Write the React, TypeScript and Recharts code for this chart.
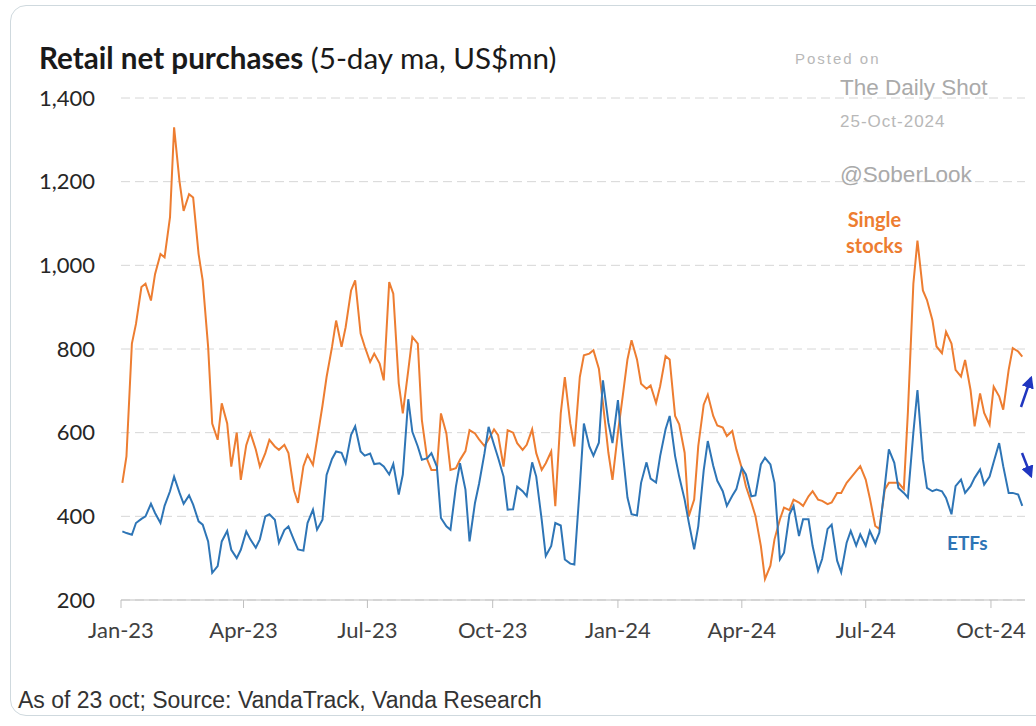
import { CartesianGrid, Line, LineChart, XAxis, YAxis } from "recharts";

// twice-weekly readings (Mon & Thu), 2 Jan 2023 -> 24 Oct 2024, US$mn, 5-day ma
const singleStocks = [
  480, 543, 813, 860, 948, 956, 916, 979, 1027, 1019, 1115, 1330, 1200, 1130, 1170, 1162,
  1027, 964, 805, 622, 583, 670, 622, 519, 600, 487, 570, 600, 560, 519, 551, 583,
  567, 559, 571, 551, 463, 432, 520, 547, 523, 583, 665, 733, 805, 868, 805, 852,
  940, 964, 837, 806, 769, 789, 765, 725, 960, 932, 718, 646, 749, 829, 813, 630,
  535, 511, 511, 646, 598, 511, 515, 535, 556, 606, 598, 584, 568, 584, 608, 594,
  519, 606, 600, 575, 559, 571, 608, 551, 511, 527, 555, 424, 646, 733, 622, 567,
  733, 785, 789, 797, 753, 670, 552, 487, 600, 674, 775, 821, 775, 717, 705, 713,
  671, 711, 783, 775, 640, 620, 552, 400, 440, 568, 667, 691, 640, 617, 612, 592, 604,
  560, 515, 472, 433, 401, 329, 250, 282, 345, 393, 421, 415, 440, 433, 425, 448,
  460, 440, 437, 429, 433, 456, 456, 480, 492, 508, 520, 488, 444, 377, 370, 464, 480,
  480, 480, 465, 650, 956, 1059, 940, 917, 869, 806, 790, 841, 813, 750, 734, 774,
  702, 615, 694, 647, 619, 710, 687, 655, 750, 802, 794, 782,
];
const etfs = [
  364, 360, 356, 384, 394, 400, 430, 408, 384, 425, 460, 495, 456, 430, 450, 428,
  388, 380, 340, 265, 281, 340, 365, 320, 300, 320, 364, 345, 325, 345, 400, 405,
  392, 337, 367, 376, 344, 321, 318, 384, 416, 368, 392, 499, 537, 555, 552, 527,
  595, 615, 555, 545, 550, 525, 527, 519, 500, 525, 452, 500, 680, 602, 567, 535,
  539, 551, 519, 396, 376, 368, 471, 527, 464, 340, 432, 478, 551, 614, 571, 540,
  495, 416, 417, 471, 460, 448, 529, 495, 392, 305, 329, 384, 378, 297, 287, 285,
  471, 622, 567, 545, 576, 725, 624, 575, 678, 570, 445, 405, 402, 480, 529, 490,
  481, 544, 608, 640, 544, 495, 440, 386, 321, 376, 510, 580, 521, 485, 460, 425, 449,
  465, 516, 500, 448, 450, 524, 540, 524, 480, 297, 313, 405, 425, 353, 393, 393,
  329, 270, 298, 370, 380, 294, 266, 337, 365, 330, 357, 330, 365, 337, 361, 472, 560,
  528, 468, 456, 445, 600, 702, 536, 468, 460, 464, 460, 444, 405, 472, 488, 456,
  472, 492, 512, 476, 495, 530, 575, 520, 456, 456, 452, 425,
];
const quarterStarts = [
  "2023-01-01", "2023-04-01", "2023-07-01", "2023-10-01",
  "2024-01-01", "2024-04-01", "2024-07-01", "2024-10-01",
];
const quarterLabels = ["Jan-23", "Apr-23", "Jul-23", "Oct-23", "Jan-24", "Apr-24", "Jul-24", "Oct-24"];
const yTicks = [200, 400, 600, 800, 1000, 1200, 1400];

const ORIGIN = Date.UTC(2023, 0, 1);
const toDay = (iso: string) => (Date.parse(iso) - ORIGIN) / 86400000;
const firstMonday = toDay("2023-01-02");
const lastDay = toDay("2024-10-26");
const xTicks = quarterStarts.map(toDay);

// observation i falls on the Monday (even i) or Thursday (odd i) of week floor(i/2)
const chartData = singleStocks.map((v, i) => ({
  t: firstMonday + 7 * Math.floor(i / 2) + 3 * (i % 2),
  single: v,
  etf: etfs[i],
}));

const ORANGE = "#ED7D31";
const BLUE = "#2E75B6";
const CAL = "Lato, 'Noto Sans', sans-serif";
const ARIAL = "'Liberation Sans', Arial, sans-serif";

const abs = (left: number, top: number, extra: React.CSSProperties = {}): React.CSSProperties => ({
  position: "absolute",
  left,
  top,
  whiteSpace: "nowrap",
  lineHeight: 1,
  ...extra,
});

const App = () => {
  return (
    <div
      style={{
        position: "absolute",
        left: 0,
        top: 0,
        width: 1036,
        height: 726,
        overflow: "hidden",
        background: "#fff",
      }}
    >
      <div
        style={{
          position: "absolute",
          left: 10,
          top: 5,
          width: 1060,
          height: 709,
          border: "1.5px solid #cfd9de",
          borderRadius: 16,
        }}
      />
      <div style={{ position: "absolute", left: 0, top: 0 }}>
        <LineChart
          width={1036}
          height={726}
          data={chartData}
          margin={{ top: 98, right: 11, bottom: 86, left: 0 }}
        >
          <CartesianGrid vertical={false} stroke="#d6d6d6" strokeDasharray="9 5" />
          <XAxis
            dataKey="t"
            type="number"
            domain={[0, lastDay]}
            ticks={xTicks}
            tickFormatter={(v: number) => quarterLabels[xTicks.indexOf(v)] ?? ""}
            height={40}
            stroke="#bfbfbf"
            tickSize={8}
            tickMargin={14}
            tick={{ fill: "#404040", fontSize: 22, fontFamily: CAL }}
            interval={0}
          />
          <YAxis
            domain={[200, 1400]}
            ticks={yTicks}
            width={121}
            axisLine={false}
            tickLine={false}
            tickSize={0}
            tickMargin={26}
            tickFormatter={(v: number) => v.toLocaleString("en-US")}
            tick={{ fill: "#262626", fontSize: 22, fontFamily: CAL }}
          />
          <Line
            type="linear"
            dataKey="single"
            stroke={ORANGE}
            strokeWidth={2}
            dot={false}
            isAnimationActive={false}
          />
          <Line
            type="linear"
            dataKey="etf"
            stroke={BLUE}
            strokeWidth={2}
            dot={false}
            isAnimationActive={false}
          />
        </LineChart>
      </div>

      <div style={abs(39, 43, { fontFamily: CAL, fontSize: 29.6, color: "#1a1a1a" })}>
        <b>Retail net purchases</b> (5-day ma, US$mn)
      </div>

      <div style={abs(795, 51, { fontFamily: ARIAL, fontSize: 15, letterSpacing: 2, color: "#b8b8b8" })}>
        Posted on
      </div>
      <div style={abs(840, 77, { fontFamily: ARIAL, fontSize: 22.5, color: "#aaaaaa" })}>The Daily Shot</div>
      <div style={abs(840, 113, { fontFamily: ARIAL, fontSize: 17, letterSpacing: 1, color: "#b8b8b8" })}>
        25-Oct-2024
      </div>
      <div style={abs(840, 164, { fontFamily: ARIAL, fontSize: 22.5, color: "#aaaaaa" })}>@SoberLook</div>

      <div
        style={abs(846, 206, {
          fontFamily: CAL,
          fontSize: 20,
          fontWeight: 700,
          color: ORANGE,
          lineHeight: "26px",
          textAlign: "center",
        })}
      >
        Single
        <br />
        stocks
      </div>
      <div style={abs(947, 533, { fontFamily: CAL, fontSize: 19, fontWeight: 700, color: BLUE })}>ETFs</div>

      <svg style={{ position: "absolute", left: 0, top: 0 }} width={1036} height={726}>
        <defs>
          <marker id="ah" viewBox="0 0 10 10" refX="8" refY="5" markerWidth="5" markerHeight="5" orient="auto">
            <path d="M0,0 L10,5 L0,10 z" fill="#2036c0" />
          </marker>
        </defs>
        <line x1={1021} y1={407} x2={1031} y2={378} stroke="#2036c0" strokeWidth={2.5} markerEnd="url(#ah)" />
        <line x1={1022} y1={453} x2={1031} y2={476} stroke="#2036c0" strokeWidth={2.5} markerEnd="url(#ah)" />
      </svg>

      <div
        style={abs(18, 689, {
          fontFamily: "'Liberation Sans Narrow', 'Liberation Sans', Arial, sans-serif",
          fontSize: 23,
          color: "#333",
        })}
      >
        As of 23 oct; Source: VandaTrack, Vanda Research
      </div>
    </div>
  );
};

export default App;
